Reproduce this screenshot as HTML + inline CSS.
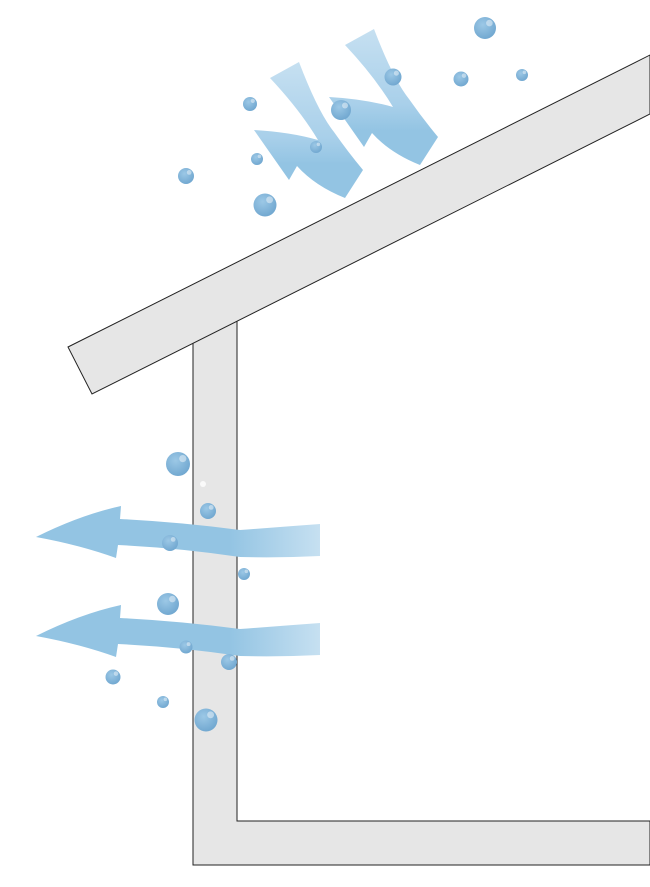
<!DOCTYPE html>
<html><head><style>html,body{margin:0;padding:0;background:#fff}svg{display:block}</style></head>
<body>
<svg width="650" height="887" viewBox="0 0 650 887" xmlns="http://www.w3.org/2000/svg">
<defs>
<linearGradient id="h" x1="0" x2="1" y1="0" y2="0" gradientUnits="objectBoundingBox">
<stop offset="0" stop-color="#93c4e3"/><stop offset="0.68" stop-color="#93c4e3"/><stop offset="1" stop-color="#c6e0f1"/>
</linearGradient>
<linearGradient id="v" x1="0" x2="0" y1="0" y2="1">
<stop offset="0" stop-color="#c6e0f1"/><stop offset="0.55" stop-color="#a9d0ea"/><stop offset="0.75" stop-color="#93c4e3"/><stop offset="1" stop-color="#93c4e3"/>
</linearGradient>
<radialGradient id="b" cx="0.4" cy="0.35" r="0.7">
<stop offset="0" stop-color="#9cc8e6"/><stop offset="1" stop-color="#6fa6cf"/>
</radialGradient>
<g id="bub"><circle r="1" fill="url(#b)"/><circle cx="0.4" cy="-0.45" r="0.3" fill="#fff" opacity="0.45"/></g>
</defs>
<polygon points="193,290 237,290 237,821 650,821 650,865 193,865" fill="#e6e6e6" stroke="#222" stroke-width="1"/>
<polygon points="68,347 650,55 650,114 92,394" fill="#e6e6e6" stroke="#222" stroke-width="1"/>
<path d="M36,537 Q80,515 121,506 L120,519 Q180,522 240,530 Q280,527 320,524 L320,556 Q280,558 240,557 Q180,548 118,545 L116,558 Q80,545 36,537 Z" fill="url(#h)"/>
<path d="M36,636 Q80,614 121,605 L120,618 Q180,621 240,629 Q280,626 320,623 L320,655 Q280,657 240,656 Q180,647 118,644 L116,657 Q80,644 36,636 Z" fill="url(#h)"/>
<path d="M270,78 L299,62 Q318,112 334,132 Q348,152 363,170 L345,198 Q315,186 297,166 L289,180 L254,130 Q290,132 318,140 Q300,110 270,78 Z" fill="url(#v)"/>
<path d="M345,45 L374,29 Q393,79 409,99 Q423,119 438,137 L420,165 Q390,153 372,133 L364,147 L329,97 Q365,99 393,107 Q375,77 345,45 Z" fill="url(#v)"/>
<g>
<use href="#bub" transform="translate(485,28) scale(11)"/>
<use href="#bub" transform="translate(461,79) scale(7.5)"/>
<use href="#bub" transform="translate(522,75) scale(6)"/>
<use href="#bub" transform="translate(393,77) scale(8.5)"/>
<use href="#bub" transform="translate(341,110) scale(10)"/>
<use href="#bub" transform="translate(250,104) scale(7)"/>
<use href="#bub" transform="translate(316,147) scale(6)"/>
<use href="#bub" transform="translate(257,159) scale(6)"/>
<use href="#bub" transform="translate(186,176) scale(8)"/>
<use href="#bub" transform="translate(265,205) scale(11.5)"/>
<use href="#bub" transform="translate(178,464) scale(12)"/>
<use href="#bub" transform="translate(208,511) scale(8)"/>
<use href="#bub" transform="translate(170,543) scale(8)"/>
<use href="#bub" transform="translate(244,574) scale(6)"/>
<use href="#bub" transform="translate(168,604) scale(11)"/>
<use href="#bub" transform="translate(186,647) scale(6.5)"/>
<use href="#bub" transform="translate(229,662) scale(8)"/>
<use href="#bub" transform="translate(113,677) scale(7.5)"/>
<use href="#bub" transform="translate(163,702) scale(6)"/>
<use href="#bub" transform="translate(206,720) scale(11.5)"/>
</g>
<circle cx="203" cy="484" r="3" fill="#fff" opacity="0.8"/>
</svg>
</body></html>
